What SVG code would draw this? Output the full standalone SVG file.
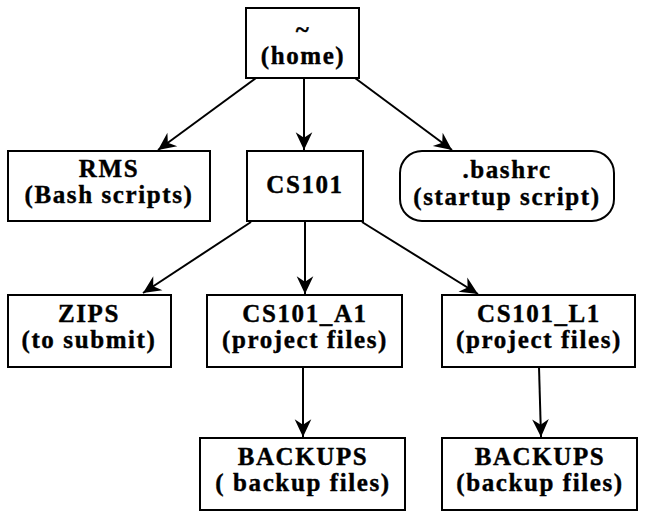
<svg xmlns="http://www.w3.org/2000/svg" width="647" height="518" viewBox="0 0 647 518">
<style>
.box{fill:#fff;stroke:#000;stroke-width:2}
.t{font-family:"Liberation Serif","Times New Roman",serif;font-weight:bold;font-size:25px;letter-spacing:1.6px;text-anchor:middle;fill:#000;stroke:#000;stroke-width:0.4}
.e{stroke:#000;stroke-width:2;fill:none;marker-end:url(#ah)}
</style>
<defs>
<marker id="ah" markerUnits="userSpaceOnUse" markerWidth="20" markerHeight="20" viewBox="-17 -9 18 18" refX="0" refY="0" orient="auto">
<path d="M-16,-7.5 L0,0 L-16,7.5 L-11,0 z" fill="#000"/>
</marker>
</defs>
<rect width="647" height="518" fill="#fff"/>
<g id="edges">
<line class="e" x1="256" y1="78" x2="158" y2="150"/>
<line class="e" x1="304" y1="78" x2="304" y2="150"/>
<line class="e" x1="355" y1="78" x2="452" y2="150"/>
<line class="e" x1="251" y1="222" x2="143" y2="293"/>
<line class="e" x1="305" y1="222" x2="305" y2="294"/>
<line class="e" x1="362" y1="222" x2="478" y2="294"/>
<line class="e" x1="303" y1="367" x2="303" y2="437"/>
<line class="e" x1="539" y1="367" x2="541" y2="437"/>
</g>
<g id="home">
<rect class="box" x="246" y="8" width="113" height="70"/>
<text class="t" x="303" y="38">~</text>
<text class="t" x="303" y="64">(home)</text>
</g>
<g id="rms">
<rect class="box" x="8" y="151" width="202" height="70"/>
<text class="t" x="109" y="177">RMS</text>
<text class="t" x="109" y="203">(Bash scripts)</text>
</g>
<g id="cs101">
<rect class="box" x="247" y="151" width="116" height="70"/>
<text class="t" x="305" y="193">CS101</text>
</g>
<g id="bashrc">
<rect class="box" x="400" y="151" width="214" height="70" rx="22" ry="22"/>
<text class="t" x="507" y="178">.bashrc</text>
<text class="t" x="507" y="205">(startup script)</text>
</g>
<g id="zips">
<rect class="box" x="8" y="295" width="163" height="72"/>
<text class="t" x="89" y="322">ZIPS</text>
<text class="t" x="89" y="348">(to submit)</text>
</g>
<g id="cs101_a1">
<rect class="box" x="207" y="295" width="195" height="72"/>
<text class="t" x="305" y="322">CS101_A1</text>
<text class="t" x="305" y="348">(project files)</text>
</g>
<g id="cs101_l1">
<rect class="box" x="442" y="295" width="193" height="72"/>
<text class="t" x="539" y="322">CS101_L1</text>
<text class="t" x="539" y="348">(project files)</text>
</g>
<g id="backups1">
<rect class="box" x="200" y="438" width="205" height="72"/>
<text class="t" x="303" y="465">BACKUPS</text>
<text class="t" x="303" y="491">( backup files)</text>
</g>
<g id="backups2">
<rect class="box" x="442" y="438" width="195" height="72"/>
<text class="t" x="540" y="465">BACKUPS</text>
<text class="t" x="540" y="491">(backup files)</text>
</g>
</svg>
